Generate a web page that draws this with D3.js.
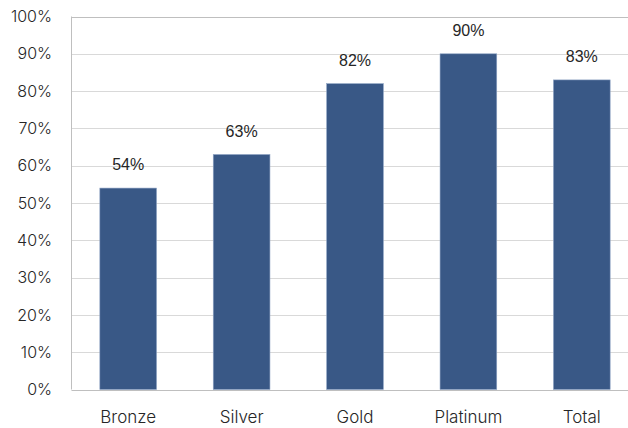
<!DOCTYPE html>
<html>
<head>
<meta charset="utf-8">
<script src="https://cdn.jsdelivr.net/npm/d3@7"></script>
<style>
  html, body { margin: 0; padding: 0; background: #fff; }
  svg { display: block; }
</style>
</head>
<body>
<svg id="chart" width="628" height="428"></svg>
<script>
const categories = ["Bronze", "Silver", "Gold", "Platinum", "Total"];
const values = [54, 63, 82, 90, 83];
const yTicks = [0, 10, 20, 30, 40, 50, 60, 70, 80, 90, 100];

(function () {
  const svg = d3.select("#chart");
  const W = 628;
  const plotLeft = 71.5, plotRight = 638.5, plotTop = 16.5, plotBottom = 389.5;

  const x = d3.scaleBand().domain(categories).range([plotLeft, plotRight])
    .paddingInner(0.5).paddingOuter(0.25);
  const y = d3.scaleLinear().domain([0, 100]).range([plotBottom, plotTop]);

  const axisFont = "Inter, 'Noto Sans', sans-serif";

  // horizontal gridlines
  svg.append("g").selectAll("line").data(yTicks).join("line")
    .attr("x1", plotLeft).attr("x2", W)
    .attr("y1", d => Math.round(y(d)) + 0.5).attr("y2", d => Math.round(y(d)) + 0.5)
    .attr("stroke", d => (d === 0 || d === 100) ? "#bfbfbf" : "#d9d9d9")
    .attr("stroke-width", 1);

  // left axis line
  svg.append("line")
    .attr("x1", plotLeft).attr("x2", plotLeft)
    .attr("y1", y(100)).attr("y2", y(0))
    .attr("stroke", "#bfbfbf");

  // y tick labels
  svg.append("g").selectAll("text").data(yTicks).join("text")
    .attr("x", 52).attr("y", d => y(d))
    .attr("dy", "0.35em")
    .attr("text-anchor", "end")
    .attr("font-family", axisFont)
    .attr("font-size", 16)
    .attr("font-weight", 300)
    .attr("fill", "#262626")
    .text(d => d + "%");

  // bars
  svg.append("g").selectAll("rect").data(values).join("rect")
    .attr("x", (d, i) => x(categories[i]))
    .attr("width", x.bandwidth())
    .attr("y", d => y(d))
    .attr("height", d => y(0) - y(d))
    .attr("fill", "#395886")
    .attr("stroke", "#8ea3c4")
    .attr("stroke-width", 0.6);

  // value labels
  svg.append("g").selectAll("text").data(values).join("text")
    .attr("x", (d, i) => x(categories[i]) + x.bandwidth() / 2)
    .attr("y", d => y(d) - 23.5)
    .attr("dy", "0.35em")
    .attr("text-anchor", "middle")
    .attr("font-family", "'Liberation Sans', Arial, sans-serif")
    .attr("font-size", 16)
    .attr("fill", "#262626")
    .text(d => d + "%");

  // category labels
  svg.append("g").selectAll("text").data(categories).join("text")
    .attr("x", d => x(d) + x.bandwidth() / 2)
    .attr("y", 417.5)
    .attr("dy", "0.35em")
    .attr("text-anchor", "middle")
    .attr("font-family", axisFont)
    .attr("font-size", 17)
    .attr("font-weight", 300)
    .attr("fill", "#262626")
    .text(d => d);
})();
</script>
</body>
</html>
